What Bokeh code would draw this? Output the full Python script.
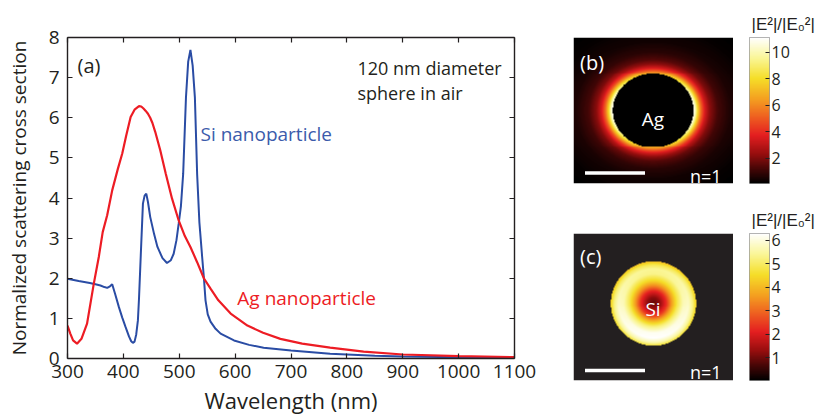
import numpy as np
from bokeh.plotting import figure
from bokeh.models import Range1d, LinearAxis, Label, LinearColorMapper, FixedTicker
from bokeh.layouts import row, column
from bokeh.embed import file_html
from bokeh.resources import INLINE

# ---------------- data ----------------
wavelength_ag = [300, 305, 310, 317, 325, 335, 347, 356, 363, 371,
                 380, 390, 398, 405, 413, 420, 428, 432, 436, 440,
                 444, 448, 452, 457, 466, 476, 487, 499, 510, 520,
                 532, 544, 556, 570, 592, 622, 650, 681, 720, 770,
                 830, 900, 1000, 1100]
scatter_ag = [0.82, 0.62, 0.45, 0.37, 0.49, 0.87, 1.86, 2.53, 3.15, 3.57,
              4.19, 4.72, 5.11, 5.55, 6.02, 6.20, 6.29, 6.28, 6.23, 6.17,
              6.10, 6.00, 5.87, 5.65, 5.19, 4.60, 3.99, 3.44, 3.05, 2.78,
              2.40, 2.00, 1.74, 1.45, 1.12, 0.82, 0.64, 0.49, 0.37, 0.27,
              0.17, 0.10, 0.06, 0.035]

wavelength_si = [300, 320, 340, 350, 359, 366, 371, 376, 380, 385,
                 392, 398, 404, 410, 414, 417, 420, 423, 426, 428,
                 431, 435, 438, 441, 444, 448, 455, 461, 470, 478,
                 485, 490, 495, 499, 503, 507, 512, 516, 520, 524,
                 528, 532, 536, 541, 544, 547, 551, 556, 565, 574,
                 598, 625, 651, 700, 770, 850, 900, 1000, 1100]
scatter_si = [1.99, 1.93, 1.88, 1.85, 1.82, 1.78, 1.76, 1.80, 1.85, 1.62,
              1.28, 1.02, 0.78, 0.55, 0.43, 0.39, 0.42, 0.60, 0.95, 1.50,
              2.53, 3.86, 4.06, 4.11, 3.90, 3.53, 3.10, 2.78, 2.50, 2.38,
              2.45, 2.61, 2.95, 3.36, 3.80, 4.60, 6.50, 7.40, 7.69, 7.30,
              6.50, 4.60, 3.40, 2.53, 2.03, 1.45, 1.10, 0.92, 0.74, 0.62,
              0.45, 0.34, 0.27, 0.20, 0.12, 0.07, 0.05, 0.03, 0.02]

x_ticks = [300, 400, 500, 600, 700, 800, 900, 1000, 1100]
y_ticks = [0, 1, 2, 3, 4, 5, 6, 7, 8]

ag_rho = [1.0, 1.05, 1.1, 1.18, 1.28, 1.4, 1.6, 1.9, 2.4, 3.0]
ag_field = [11.0, 10.0, 8.0, 5.5, 3.5, 2.2, 1.2, 0.6, 0.25, 0.05]
ag_weight_side, ag_weight_top = 1.0, 0.62
ag_inside = 0.0

si_rho = [0.0, 0.15, 0.3, 0.42, 0.55, 0.7, 0.82, 0.92, 1.0]
si_field = [0.9, 1.3, 2.3, 3.6, 4.8, 5.7, 5.8, 5.2, 4.3]
si_weight_top, si_weight_bottom = 0.93, 1.08

cb_b_ticks = [2, 4, 6, 8, 10]
cb_b_range = (0.1, 11.1)
cb_c_ticks = [1, 2, 3, 4, 5, 6]
cb_c_range = (0.04, 6.28)

# ---------------- styles ----------------
FONT = "Open Sans"
DARK = "#231f20"
RED = "#ed1c24"
BLUE = "#2a4ca4"
BLUE_TXT = "#3b5bab"

# hot-like palette
anchors_t = [0.0, 0.1, 0.2, 0.33, 0.45, 0.58, 0.72, 0.86, 1.0]
anchors_r = [0, 70, 150, 228, 238, 244, 245, 250, 255]
anchors_g = [0, 6, 14, 30, 92, 160, 222, 246, 255]
anchors_b = [0, 6, 14, 32, 32, 32, 40, 150, 255]
tt = np.linspace(0, 1, 256)
HOT = ["#%02x%02x%02x" % (int(round(np.interp(t, anchors_t, anchors_r))),
                          int(round(np.interp(t, anchors_t, anchors_g))),
                          int(round(np.interp(t, anchors_t, anchors_b)))) for t in tt]

# ---------------- main plot (a) ----------------
p = figure(width=545, height=417, x_range=Range1d(300, 1100), y_range=Range1d(0, 8),
           output_backend="svg", toolbar_location=None,
           min_border_left=67, min_border_right=31, min_border_top=37, min_border_bottom=59)
p.grid.visible = False
p.outline_line_color = None

def style_axis(ax):
    ax.axis_line_color = DARK
    ax.axis_line_width = 1.4
    ax.major_tick_line_color = DARK
    ax.major_tick_line_width = 1.2
    ax.major_tick_in = 5
    ax.major_tick_out = 0
    ax.minor_tick_line_color = None
    ax.major_label_text_font = FONT
    ax.major_label_text_font_size = "19px"
    ax.major_label_text_color = DARK
    ax.axis_label_text_font = FONT
    ax.axis_label_text_font_style = "normal"
    ax.axis_label_text_color = DARK

p.xaxis.ticker = FixedTicker(ticks=x_ticks)
p.yaxis.ticker = FixedTicker(ticks=y_ticks)
for ax in p.xaxis + p.yaxis:
    style_axis(ax)
p.xaxis.major_label_standoff = 6
p.yaxis.major_label_standoff = 8
p.xaxis.axis_label = "Wavelength (nm)"
p.xaxis.axis_label_text_font_size = "22px"
p.xaxis.axis_label_standoff = 4
p.yaxis.axis_label = "Normalized scattering cross section"
p.yaxis.axis_label_text_font_size = "19px"
p.yaxis.axis_label_standoff = 14

top_ax = LinearAxis(ticker=FixedTicker(ticks=x_ticks),
                    major_label_overrides={t: "" for t in x_ticks})
right_ax = LinearAxis(ticker=FixedTicker(ticks=y_ticks),
                      major_label_overrides={t: "" for t in y_ticks})
style_axis(top_ax)
style_axis(right_ax)
p.add_layout(top_ax, "above")
p.add_layout(right_ax, "right")

p.line(wavelength_si, scatter_si, line_color=BLUE, line_width=2.0)
p.line(wavelength_ag, scatter_ag, line_color=RED, line_width=2.2)

def add_label(fig, x, y, text, color=DARK, size="18px", align="left", baseline="alphabetic"):
    fig.add_layout(Label(x=x, y=y, text=text, text_color=color, text_font=FONT,
                         text_font_size=size, text_align=align, text_baseline=baseline))

add_label(p, 318, 7.29, "(a)", size="20px")
add_label(p, 819, 7.24, "120 nm diameter")
add_label(p, 819, 6.62, "sphere in air")
add_label(p, 538, 5.59, "Si nanoparticle", color=BLUE_TXT, size="19px")
add_label(p, 604, 1.52, "Ag nanoparticle", color=RED, size="19px")

# ---------------- field map helpers ----------------
W_IMG, H_IMG = 160, 148
xx, yy = np.meshgrid(np.arange(W_IMG) + 0.5, np.arange(H_IMG) + 0.5)

# panel (b): Ag
u = (xx - 79.7) / 40.3
v = (yy - 74.0) / 37.0
rho = np.hypot(u, v)
cos2 = np.where(rho > 0, (u / np.maximum(rho, 1e-9)) ** 2, 1.0)
weight = ag_weight_side * cos2 + ag_weight_top * (1 - cos2)
field_b = np.interp(rho, ag_rho, ag_field) * weight
field_b = np.where(rho < 1.0, ag_inside, field_b)

# panel (c): Si
dx = xx - 80.0
dy = yy - 77.5
r = np.hypot(dx, dy)
rn = r / 42.7
s = np.where(r > 0, dy / np.maximum(r, 1e-9), 0.0)
w_c = np.where(s > 0, 1 + s * (si_weight_top - 1), 1 - s * (si_weight_bottom - 1))
field_c = np.interp(rn, si_rho, si_field) * w_c
field_c = np.where(rn <= 1.0, field_c, np.nan)

def image_panel(field, mapper, height, top, bottom, tag, center_text, tag_y, center_y, n_y, bar_y):
    f = figure(width=188, height=height, x_range=Range1d(0, W_IMG), y_range=Range1d(0, H_IMG),
               output_backend="svg", toolbar_location=None,
               x_axis_location=None, y_axis_location=None,
               min_border_left=28, min_border_right=0, min_border_top=top, min_border_bottom=bottom)
    f.grid.visible = False
    f.outline_line_color = None
    f.image(image=[field], x=0, y=0, dw=W_IMG, dh=H_IMG, color_mapper=mapper)
    add_label(f, 6.5, tag_y, tag, color="white", size="20px")
    add_label(f, 79.5, center_y, center_text, color="white", size="19px", align="center")
    add_label(f, 116.5, n_y, "n=1", color="white", size="18px")
    f.segment(x0=[11.5], y0=[bar_y], x1=[71.5], y1=[bar_y], line_color="white", line_width=3.5)
    return f

def colorbar_panel(mapper, rng, ticks, height, top, bottom):
    f = figure(width=85, height=height, x_range=Range1d(0, 1), y_range=Range1d(rng[0], rng[1]),
               output_backend="svg", toolbar_location=None,
               x_axis_location=None, y_axis_location="right",
               min_border_left=16, min_border_right=49, min_border_top=top, min_border_bottom=bottom,
               title="|E²|/|E₀²|")
    f.grid.visible = False
    f.outline_line_color = "#9a9a9a"
    f.outline_line_width = 1
    grad = np.linspace(rng[0], rng[1], 256).reshape(256, 1)
    f.image(image=[grad], x=0, y=rng[0], dw=1, dh=rng[1] - rng[0], color_mapper=mapper)
    ax = f.yaxis[0]
    ax.ticker = FixedTicker(ticks=ticks)
    ax.axis_line_color = None
    ax.major_tick_in = 4
    ax.major_tick_out = 0
    ax.major_tick_line_color = DARK
    ax.minor_tick_line_color = None
    ax.major_label_standoff = 2
    ax.major_label_text_font = FONT
    ax.major_label_text_font_size = "16px"
    ax.major_label_text_color = DARK
    f.title.text_font = "Liberation Sans"
    f.title.text_font_size = "17px"
    f.title.text_font_style = "normal"
    f.title.text_color = DARK
    f.title.align = "left"
    f.title.offset = 2
    f.title.standoff = 8
    return f

mapper_b = LinearColorMapper(palette=HOT, low=cb_b_range[0], high=cb_b_range[1])
mapper_c = LinearColorMapper(palette=HOT, low=cb_c_range[0], high=cb_c_range[1], nan_color="#231f20")

p_b = image_panel(field_b, mapper_b, 200, 35, 17, "(b)", "Ag", 123, 65, 8, 10.7)
p_cb_b = colorbar_panel(mapper_b, cb_b_range, cb_b_ticks, 200, 37, 16)
p_c = image_panel(field_c, mapper_c, 217, 33, 36, "(c)", "Si", 125, 71.7, 9, 10)
p_cb_c = colorbar_panel(mapper_c, cb_c_range, cb_c_ticks, 217, 33, 37)

layout = row(p, column(row(p_b, p_cb_b), row(p_c, p_cb_c)))

open("out.html", "w").write(file_html(layout, INLINE))
